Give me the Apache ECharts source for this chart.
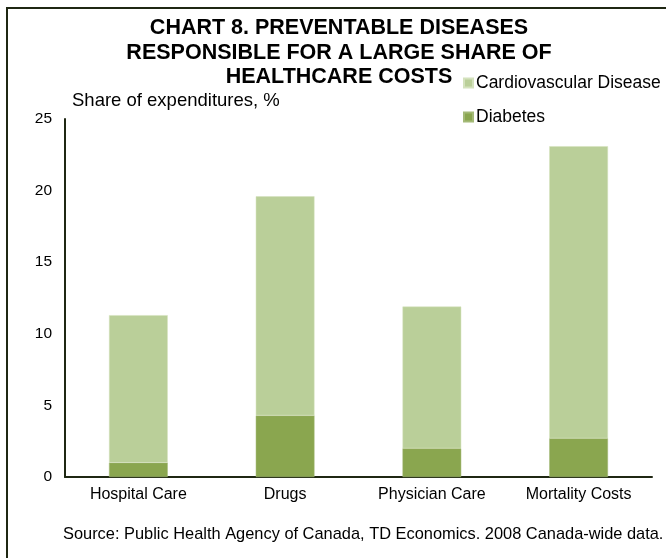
<!DOCTYPE html>
<html>
<head>
<meta charset="utf-8">
<script src="https://cdn.jsdelivr.net/npm/echarts@6/dist/echarts.min.js"></script>
<style>
  html, body { margin: 0; padding: 0; background: #fff; }
  #chart { width: 666px; height: 558px; }
</style>
</head>
<body>
<div id="chart"></div>
<script>
// Cost categories and each disease's share of expenditures (%)
const categories = ['Hospital Care', 'Drugs', 'Physician Care', 'Mortality Costs'];
const diabetes = [1.0, 4.3, 2.0, 2.7];
const cardiovascular = [10.3, 15.3, 9.9, 20.4];
const yTicks = { min: 0, max: 25, interval: 5 };

const FONT = '"Liberation Sans", Arial, sans-serif';
const AXIS_COLOR = '#1f2713';

const chart = echarts.init(document.getElementById('chart'), null, { renderer: 'canvas' });

chart.setOption({
  animation: false,
  backgroundColor: '#ffffff',
  textStyle: { fontFamily: FONT, color: '#000' },
  title: {
    text: 'CHART 8. PREVENTABLE DISEASES\nRESPONSIBLE FOR A LARGE SHARE OF\nHEALTHCARE COSTS',
    left: 334,
    top: 11,
    textAlign: 'center',
    textStyle: {
      fontFamily: FONT,
      fontSize: 21.5,
      fontWeight: 'bold',
      color: '#000',
      lineHeight: 24.5
    }
  },
  legend: {
    orient: 'vertical',
    left: 458,
    top: 69,
    itemWidth: 9,
    itemHeight: 9,
    itemGap: 16,
    icon: 'rect',
    data: ['Cardiovascular Disease', 'Diabetes'],
    textStyle: { fontFamily: FONT, fontSize: 17.5, color: '#000', padding: [0, 0, 0, -2] }
  },
  grid: { left: 65, right: 14, top: 119, bottom: 81, containLabel: false },
  xAxis: {
    type: 'category',
    data: categories,
    axisLine: { show: true, lineStyle: { color: AXIS_COLOR, width: 2 } },
    axisTick: { show: false },
    axisLabel: { fontFamily: FONT, fontSize: 16, color: '#000', margin: 10 }
  },
  yAxis: {
    type: 'value',
    min: yTicks.min,
    max: yTicks.max,
    interval: yTicks.interval,
    axisLine: { show: true, lineStyle: { color: AXIS_COLOR, width: 2 } },
    axisTick: { show: false },
    splitLine: { show: false },
    axisLabel: { fontFamily: FONT, fontSize: 15.5, color: '#000', margin: 13 }
  },
  series: [
    {
      name: 'Diabetes',
      type: 'bar',
      stack: 'total',
      data: diabetes,
      barWidth: '40%',
      itemStyle: { color: '#8aa64f', borderColor: '#a3b977', borderWidth: 0.5 }
    },
    {
      name: 'Cardiovascular Disease',
      type: 'bar',
      stack: 'total',
      data: cardiovascular,
      barWidth: '40%',
      itemStyle: { color: '#bacf99', borderColor: '#d4e2bd', borderWidth: 0.5 }
    }
  ],
  graphic: [
    {
      // frame along the top and left edges
      type: 'polyline',
      shape: { points: [[666, 8], [7, 8], [7, 558]] },
      style: { stroke: AXIS_COLOR, lineWidth: 2, fill: null }
    },
    {
      type: 'text',
      left: 72,
      top: 91,
      style: { text: 'Share of expenditures, %', font: '18.5px ' + FONT, fill: '#000' }
    },
    {
      type: 'text',
      left: 63,
      top: 526,
      style: {
        text: 'Source: Public Health Agency of Canada, TD Economics. 2008 Canada-wide data.',
        font: '16.4px ' + FONT,
        fill: '#000'
      }
    }
  ]
});
</script>
</body>
</html>
